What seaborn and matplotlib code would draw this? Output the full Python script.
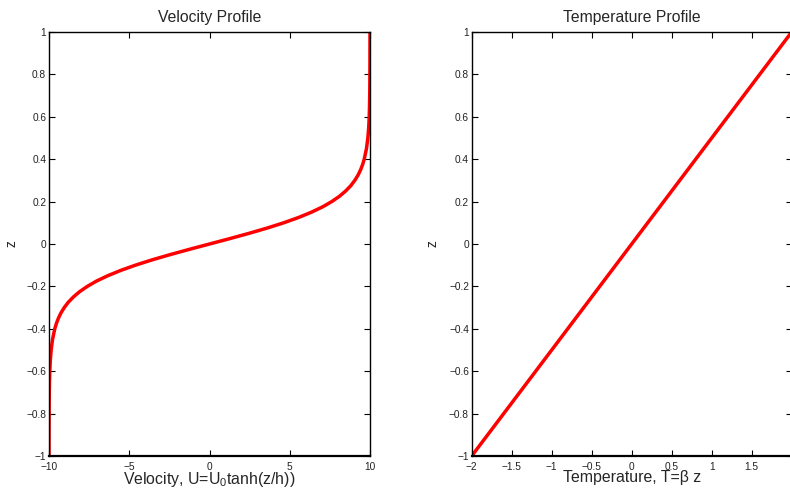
import matplotlib
matplotlib.use("Agg")
import matplotlib.pyplot as plt
import seaborn as sns

# velocity profile
z_vel = [-1.0, -0.95, -0.9, -0.85, -0.8, -0.75, -0.7, -0.65, -0.6, -0.55, -0.5,
         -0.45, -0.4, -0.375, -0.35, -0.325, -0.3, -0.275, -0.25, -0.225, -0.2,
         -0.175, -0.15, -0.125, -0.1, -0.075, -0.05, -0.025, 0.0,
         0.025, 0.05, 0.075, 0.1, 0.125, 0.15, 0.175, 0.2, 0.225, 0.25, 0.275,
         0.3, 0.325, 0.35, 0.375, 0.4, 0.45, 0.5, 0.55, 0.6, 0.65, 0.7, 0.75,
         0.8, 0.85, 0.9, 0.95, 1.0]
u_vel = [-10.0, -9.998, -9.998, -9.996, -9.993, -9.989, -9.982, -9.97, -9.951, -9.919, -9.866,
         -9.78, -9.64, -9.541, -9.414, -9.256, -9.051, -8.802, -8.483, -8.095, -7.616,
         -7.042, -6.351, -5.546, -4.621, -3.584, -2.449, -1.244, 0.0,
         1.244, 2.449, 3.584, 4.621, 5.546, 6.351, 7.042, 7.616, 8.095, 8.483, 8.802,
         9.051, 9.256, 9.414, 9.541, 9.64, 9.78, 9.866, 9.919, 9.951, 9.97, 9.982, 9.989,
         9.993, 9.996, 9.998, 9.998, 10.0]

# temperature profile (straight line)
z_temp = [-1.0, 1.0]
t_temp = [-2.0, 2.0]

vel_ticks = [-10, -5, 0, 5, 10]
temp_ticks = [-2, -1.5, -1, -0.5, 0, 0.5, 1, 1.5, 2]
z_ticks = [-1, -0.8, -0.6, -0.4, -0.2, 0, 0.2, 0.4, 0.6, 0.8, 1]

sns.set_style("white")
plt.rcParams["font.family"] = ["Liberation Sans", "DejaVu Sans"]
plt.rcParams["mathtext.fontset"] = "custom"
plt.rcParams["mathtext.rm"] = "Liberation Sans"
plt.rcParams["mathtext.it"] = "Liberation Sans"

fig = plt.figure(figsize=(7.9, 4.92), dpi=100)
ax1 = fig.add_axes([49 / 790, 36 / 492, 321 / 790, 424 / 492])
ax2 = fig.add_axes([471.7 / 790, 36 / 492, 320 / 790, 424 / 492])


def fmt(t):
    return ("%g" % t).replace("-", "\u2212")


def style(ax, xticks, xlabels, xlim):
    ax.set_xlim(*xlim)
    ax.set_ylim(-1, 1)
    ax.set_xticks(xticks)
    ax.set_yticks(z_ticks)
    ax.set_xticklabels(xlabels)
    ax.set_yticklabels([fmt(t) for t in z_ticks])
    ax.tick_params(direction="in", length=4, width=0.8, labelsize=7.3,
                   top=True, right=True, bottom=True, left=True, pad=2,
                   colors="black", labelcolor="#222222")
    ax.tick_params(axis="x", pad=4)
    for s in ax.spines.values():
        s.set_color("black")
        s.set_linewidth(1.0)
    ax.spines["bottom"].set_linewidth(1.6)
    ax.set_ylabel("z", fontsize=10)


sns.lineplot(x=u_vel, y=z_vel, sort=False, color="red", linewidth=2.5, ax=ax1)
style(ax1, vel_ticks, [fmt(t) for t in vel_ticks], (-10, 10))
ax1.yaxis.set_label_coords(-0.095, 0.5)
ax1.set_title("Velocity Profile", fontsize=11.3, pad=7)
ax1.set_xlabel("Velocity, U=U$_0$tanh(z/h))", fontsize=11.4, labelpad=-1)

sns.lineplot(x=t_temp, y=z_temp, sort=False, color="red", linewidth=2.5, ax=ax2)
# the last tick label falls past the figure edge, as in the original
style(ax2, temp_ticks, [fmt(t) for t in temp_ticks[:-1]] + [""], (-2, 2))
ax2.yaxis.set_label_coords(-0.10, 0.5)
ax2.set_title("Temperature Profile", fontsize=11.3, pad=7)
ax2.set_xlabel("Temperature, T=\u03b2 z", fontsize=11.4, labelpad=-1)

fig.savefig("out.png", dpi=100)
